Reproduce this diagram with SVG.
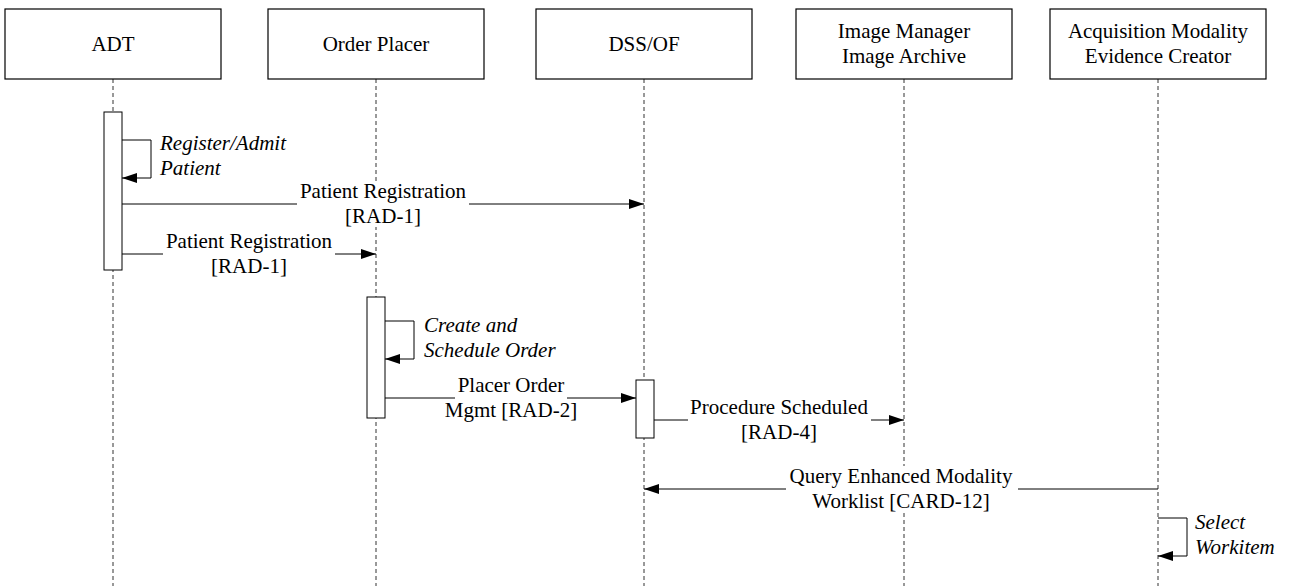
<svg xmlns="http://www.w3.org/2000/svg" width="1293" height="586" viewBox="0 0 1293 586">
<style>
.box{fill:#fff;stroke:#000;stroke-width:1.2}
.life{stroke:#333;stroke-width:1;stroke-dasharray:4 3;fill:none}
.act{fill:#fff;stroke:#000;stroke-width:1}
.msg{stroke:#000;stroke-width:1;fill:none}
.t{font-family:"Liberation Serif","Times New Roman",serif;font-size:21px;fill:#000;text-anchor:middle}
.ti{font-family:"Liberation Serif","Times New Roman",serif;font-size:21px;font-style:italic;fill:#000}
.bg{fill:#fff}
</style>
<defs>
<marker id="ah" viewBox="0 0 15 10" refX="15" refY="5" markerWidth="15" markerHeight="10" markerUnits="userSpaceOnUse" orient="auto">
<path d="M0,0 L15,5 L0,10 Z" fill="#000"/>
</marker>
</defs>
<rect width="1293" height="586" fill="#fff"/>
<g id="lifelines">
<line class="life" x1="113" y1="79" x2="113" y2="586"/>
<line class="life" x1="376" y1="79" x2="376" y2="586"/>
<line class="life" x1="644" y1="79" x2="644" y2="586"/>
<line class="life" x1="904" y1="79" x2="904" y2="586"/>
<line class="life" x1="1158" y1="79" x2="1158" y2="586"/>
</g>
<g id="node-adt">
<rect class="box" x="5" y="9" width="216" height="70"/>
<text class="t" x="113" y="51">ADT</text>
</g>
<g id="node-op">
<rect class="box" x="268" y="9" width="216" height="70"/>
<text class="t" x="376" y="51">Order Placer</text>
</g>
<g id="node-dss">
<rect class="box" x="536" y="9" width="216" height="70"/>
<text class="t" x="644" y="51">DSS/OF</text>
</g>
<g id="node-im">
<rect class="box" x="796" y="9" width="216" height="70"/>
<text class="t" x="904" y="38">Image Manager</text>
<text class="t" x="904" y="63">Image Archive</text>
</g>
<g id="node-am">
<rect class="box" x="1050" y="9" width="216" height="70"/>
<text class="t" x="1158" y="38">Acquisition Modality</text>
<text class="t" x="1158" y="63">Evidence Creator</text>
</g>
<g id="activations">
<rect class="act" x="104" y="112" width="18" height="158"/>
<rect class="act" x="367" y="297" width="18" height="121"/>
<rect class="act" x="636" y="380" width="18" height="58"/>
</g>
<g id="connectors">
<polyline class="msg" points="122,140 151,140 151,178 122,178" marker-end="url(#ah)"/>
<line class="msg" x1="122" y1="204" x2="644" y2="204" marker-end="url(#ah)"/>
<line class="msg" x1="122" y1="254" x2="376" y2="254" marker-end="url(#ah)"/>
<polyline class="msg" points="385,321 414,321 414,359 385,359" marker-end="url(#ah)"/>
<line class="msg" x1="385" y1="398" x2="636" y2="398" marker-end="url(#ah)"/>
<line class="msg" x1="654" y1="420" x2="904" y2="420" marker-end="url(#ah)"/>
<line class="msg" x1="1158" y1="489" x2="644" y2="489" marker-end="url(#ah)"/>
<polyline class="msg" points="1158,518 1187,518 1187,556 1158,556" marker-end="url(#ah)"/>
</g>
<g id="labels">
<text class="ti" x="160" y="150">Register/Admit</text>
<text class="ti" x="160" y="175">Patient</text>

<rect class="bg" x="297" y="181" width="172" height="24"/>
<rect class="bg" x="343" y="205" width="80" height="22"/>
<text class="t" x="383" y="198">Patient Registration</text>
<text class="t" x="383" y="223">[RAD-1]</text>

<rect class="bg" x="163" y="231" width="172" height="24"/>
<rect class="bg" x="209" y="255" width="80" height="22"/>
<text class="t" x="249" y="248">Patient Registration</text>
<text class="t" x="249" y="273">[RAD-1]</text>

<text class="ti" x="424" y="332">Create and</text>
<text class="ti" x="424" y="357">Schedule Order</text>

<rect class="bg" x="455" y="375" width="112" height="24"/>
<rect class="bg" x="441" y="399" width="138" height="22"/>
<text class="t" x="511" y="392">Placer Order</text>
<text class="t" x="511" y="417">Mgmt [RAD-2]</text>

<rect class="bg" x="688" y="397" width="183" height="24"/>
<rect class="bg" x="739" y="421" width="80" height="22"/>
<text class="t" x="779" y="414">Procedure Scheduled</text>
<text class="t" x="779" y="439">[RAD-4]</text>

<rect class="bg" x="786" y="466" width="232" height="24"/>
<rect class="bg" x="808" y="490" width="188" height="22"/>
<text class="t" x="901" y="483">Query Enhanced Modality</text>
<text class="t" x="901" y="508">Worklist [CARD-12]</text>

<text class="ti" x="1195" y="529">Select</text>
<text class="ti" x="1195" y="554">Workitem</text>
</g>
</svg>
